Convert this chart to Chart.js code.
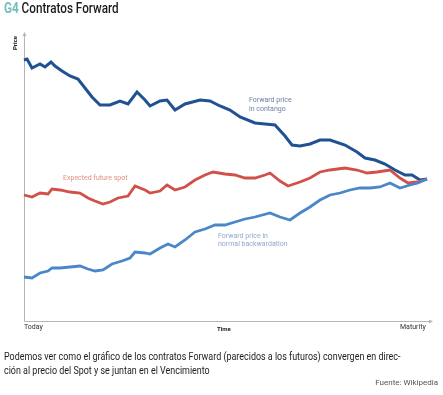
<!DOCTYPE html>
<html>
<head>
<meta charset="utf-8">
<script src="https://cdn.jsdelivr.net/npm/chart.js@4"></script>
<style>
  html, body { margin: 0; padding: 0; background: #fff; }
  #wrap { position: relative; width: 443px; height: 395px; overflow: hidden; font-family: Roboto, "Noto Sans", sans-serif; }
  #chart { position: absolute; left: 0; top: 0; }
  .lbl { position: absolute; white-space: nowrap; line-height: 1; }
  .cond { transform-origin: left top; }
</style>
</head>
<body>
<div id="wrap">
  <canvas id="chart" width="443" height="395"></canvas>

  <div class="lbl cond" style="left:4px; top:1px; font-size:15px; font-weight:500; transform:scaleX(0.78);">
    <span style="color:#6fc0bb; font-weight:700;">G4</span> <span style="color:#1c1c1c;">Contratos Forward</span>
  </div>

  <div class="lbl" style="left:12px; top:50px; font-size:6px; font-weight:700; color:#222; transform:rotate(-90deg); transform-origin:left top;">Price</div>
  <div class="lbl" style="left:24px; top:324px; font-size:7px; color:#333;">Today</div>
  <div class="lbl" style="left:217px; top:326px; font-size:6px; font-weight:700; color:#222;">Time</div>
  <div class="lbl" style="left:400px; top:324px; font-size:7px; color:#333;">Maturity</div>

  <div class="lbl" style="left:249px; top:96px; font-size:7px; color:#6b82a8; line-height:9px;">Forward price<br>in contango</div>
  <div class="lbl" style="left:63px; top:175px; font-size:7px; color:#e29080;">Expected future spot</div>
  <div class="lbl" style="left:218px; top:232px; font-size:7px; color:#8fa8cc; line-height:8px;">Forward price in<br>normal backwardation</div>

  <div class="lbl cond" style="left:4px; top:350px; font-size:11px; color:#1c1c1c; transform:scaleX(0.813); line-height:14px;">Podemos ver como el gráfico de los contratos Forward (parecidos a los futuros) convergen en direc-<br>ción al precio del Spot y se juntan en el Vencimiento</div>
  <div class="lbl" style="right:5px; top:379px; font-size:8px; color:#555;">Fuente: Wikipedia</div>
</div>

<script>
// time axis runs from Today (0) to Maturity (403); prices in the chart's own units
const contangoT = [0, 3, 8, 16, 21, 27, 31, 38, 46, 54, 61, 68, 76, 86, 96, 104, 113, 121, 126, 136, 143, 151, 161, 176, 186, 196, 206, 216, 231, 241, 251, 261, 268, 276, 286, 296, 306, 321, 333, 341, 351, 361, 371, 381, 388, 396, 403];
const contangoV = [261, 262, 253, 257, 254, 259, 255, 250, 245, 242, 233, 224, 216, 216, 220, 217, 229, 221, 215, 220, 221, 211, 217, 221, 220, 215, 211, 204, 198, 197, 196, 185, 176, 175, 177, 181, 181, 176, 169, 163, 161, 157, 151, 146, 146, 141, 142];

const spotT = [0, 8, 16, 24, 28, 36, 46, 56, 64, 71, 79, 86, 94, 104, 111, 121, 126, 136, 143, 151, 161, 171, 181, 189, 201, 211, 221, 231, 241, 246, 256, 264, 276, 286, 296, 306, 321, 333, 343, 353, 366, 376, 384, 393, 403];
const spotV = [126, 124, 128, 127, 132, 131, 129, 128, 123, 120, 117, 119, 123, 125, 135, 131, 128, 130, 136, 131, 134, 141, 146, 149, 147, 146, 143, 143, 146, 148, 140, 135, 139, 143, 149, 151, 153, 151, 148, 149, 151, 143, 138, 139, 142];

const backT = [0, 8, 16, 24, 28, 36, 46, 56, 64, 71, 79, 88, 98, 106, 111, 121, 126, 136, 144, 151, 161, 171, 181, 191, 201, 211, 221, 231, 246, 256, 266, 276, 286, 296, 306, 316, 326, 336, 346, 356, 366, 376, 386, 394, 403];
const backV = [44, 43, 48, 50, 53, 53, 54, 55, 52, 50, 51, 57, 60, 63, 69, 68, 67, 73, 77, 74, 81, 89, 92, 96, 96, 99, 102, 104, 108, 104, 101, 108, 114, 121, 126, 128, 131, 133, 133, 134, 138, 133, 136, 138, 142];

function toPoints(ts, vs) {
    return ts.map((t, i) => ({ x: t, y: vs[i] }));
}

// axis lines with arrow heads, drawn under the series
const axesPlugin = {
    id: 'axes',
    beforeDatasetsDraw(chart) {
        const { ctx, chartArea: a } = chart;
        ctx.save();
        ctx.strokeStyle = '#b5b5b5';
        ctx.fillStyle = '#b5b5b5';
        ctx.lineWidth = 1;
        ctx.beginPath();
        ctx.moveTo(a.left + 0.5, a.top);
        ctx.lineTo(a.left + 0.5, a.bottom + 0.5);
        ctx.lineTo(a.right + 3, a.bottom + 0.5);
        ctx.stroke();
        ctx.beginPath();
        ctx.moveTo(a.left + 0.5, a.top - 3);
        ctx.lineTo(a.left - 1.5, a.top + 1);
        ctx.lineTo(a.left + 2.5, a.top + 1);
        ctx.fill();
        ctx.beginPath();
        ctx.moveTo(a.right + 6, a.bottom + 0.5);
        ctx.lineTo(a.right + 2, a.bottom - 1.5);
        ctx.lineTo(a.right + 2, a.bottom + 2.5);
        ctx.fill();
        ctx.restore();
    }
};

const ctx = document.getElementById('chart');
new Chart(ctx, {
    type: 'line',
    data: {
        datasets: [
            { data: toPoints(backT, backV), borderColor: '#4a87c9', borderWidth: 2.8, pointRadius: 0, tension: 0 },
            { data: toPoints(spotT, spotV), borderColor: '#d2504a', borderWidth: 2.8, pointRadius: 0, tension: 0 },
            { data: toPoints(contangoT, contangoV), borderColor: '#1f5193', borderWidth: 3, pointRadius: 0, tension: 0 }
        ]
    },
    options: {
        responsive: false,
        animation: false,
        clip: false,
        layout: { padding: { left: 24, right: 16, top: 35, bottom: 74 } },
        plugins: { legend: { display: false }, tooltip: { enabled: false } },
        scales: {
            x: { type: 'linear', display: false, min: 0, max: 403 },
            y: { display: false, min: 0, max: 286 }
        }
    },
    plugins: [axesPlugin]
});
</script>
</body>
</html>
